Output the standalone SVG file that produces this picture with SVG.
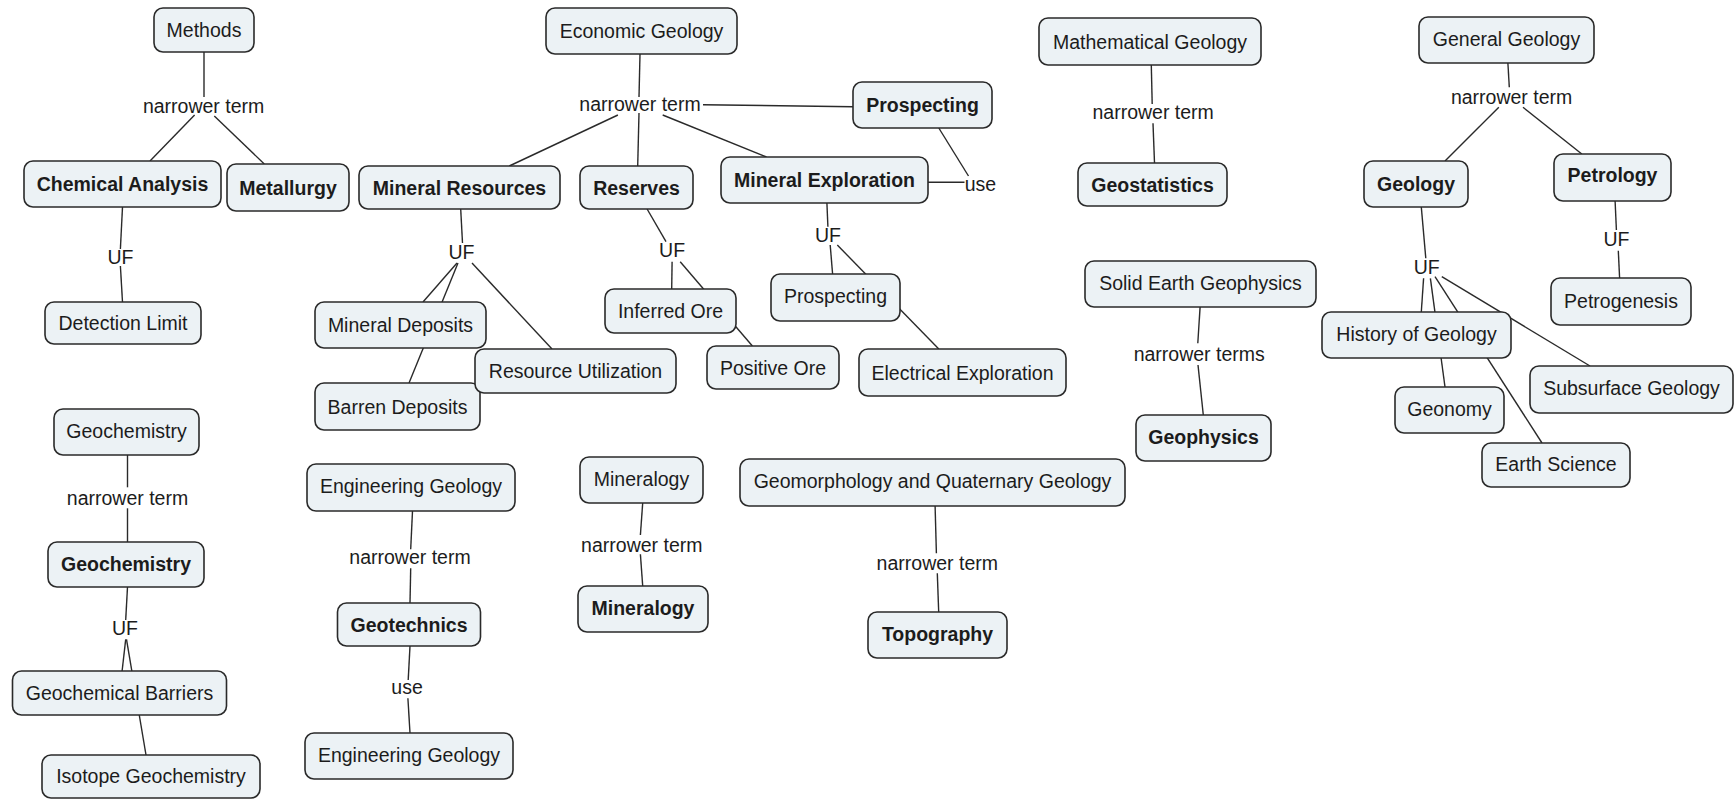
<svg xmlns="http://www.w3.org/2000/svg" width="1735" height="799" viewBox="0 0 1735 799">
  <style>
    .bg { fill: #ffffff; }
    .node rect { fill: #ecf2f5; stroke: #2a2a2a; stroke-width: 1.6; }
    .node text, .lbl { font-family: "Liberation Sans", Arial, Helvetica, sans-serif; font-size: 19.5px; fill: #1c1c1c; text-anchor: middle; }
    .node.b text { font-weight: bold; }
    #connectors line { stroke: #2a2a2a; stroke-width: 1.4; fill: none; }
  </style>
  <rect class="bg" x="0" y="0" width="1735" height="799"/>

  <!-- connector lines (drawn first so the concept boxes sit on top) -->
  <g id="connectors">
    <!-- Methods -->
    <line x1="204" y1="52" x2="204" y2="97"/>
    <line x1="194.6" y1="115" x2="150" y2="161"/>
    <line x1="214.3" y1="116" x2="264.3" y2="164"/>
    <line x1="122.5" y1="207" x2="120.4" y2="249"/>
    <line x1="120.4" y1="266" x2="122.5" y2="302"/>
    <!-- Economic Geology -->
    <line x1="640" y1="54" x2="639" y2="97"/>
    <line x1="703" y1="104.7" x2="853" y2="106.7"/>
    <line x1="617.9" y1="115" x2="509.3" y2="166"/>
    <line x1="639" y1="113" x2="637.7" y2="166"/>
    <line x1="662.7" y1="115" x2="766.5" y2="157"/>
    <line x1="460.7" y1="209" x2="462.5" y2="243"/>
    <line x1="457" y1="263" x2="423" y2="302"/>
    <line x1="458" y1="263" x2="409" y2="383"/>
    <line x1="472" y1="263" x2="552" y2="349"/>
    <line x1="647.1" y1="209" x2="666" y2="241.7"/>
    <line x1="672.1" y1="261.7" x2="671.7" y2="289"/>
    <line x1="680.2" y1="261.7" x2="752.4" y2="346"/>
    <line x1="826.9" y1="203" x2="827.9" y2="226.7"/>
    <line x1="830.2" y1="245" x2="832.6" y2="274"/>
    <line x1="837.3" y1="245" x2="938.8" y2="349"/>
    <line x1="938.8" y1="128" x2="968.5" y2="176"/>
    <line x1="928" y1="182.3" x2="964.5" y2="182.3"/>
    <!-- Mathematical Geology -->
    <line x1="1151.3" y1="65" x2="1152.2" y2="104"/>
    <line x1="1153" y1="123.3" x2="1154.5" y2="163"/>
    <!-- General Geology -->
    <line x1="1507.9" y1="63" x2="1509.3" y2="87.3"/>
    <line x1="1498.8" y1="107.3" x2="1445" y2="161"/>
    <line x1="1523" y1="107.3" x2="1581.8" y2="154"/>
    <line x1="1421.3" y1="207" x2="1425.8" y2="258.3"/>
    <line x1="1423.6" y1="278.3" x2="1421.3" y2="312"/>
    <line x1="1430.4" y1="278.3" x2="1445" y2="387"/>
    <line x1="1435" y1="276.7" x2="1542" y2="443"/>
    <line x1="1441.8" y1="276.7" x2="1590" y2="366"/>
    <line x1="1615.1" y1="201" x2="1616.4" y2="230"/>
    <line x1="1618.3" y1="250.7" x2="1619.6" y2="278"/>
    <!-- Solid Earth Geophysics -->
    <line x1="1200.1" y1="307" x2="1197.8" y2="343.3"/>
    <line x1="1198" y1="365" x2="1203.3" y2="415"/>
    <!-- Geochemistry -->
    <line x1="127.5" y1="455" x2="127.5" y2="487.3"/>
    <line x1="127.5" y1="508.3" x2="127.5" y2="542"/>
    <line x1="127.5" y1="587" x2="125.7" y2="620"/>
    <line x1="125.7" y1="639.3" x2="122.1" y2="671"/>
    <line x1="126.5" y1="639.3" x2="146" y2="755"/>
    <!-- Engineering Geology -->
    <line x1="412.5" y1="511" x2="410.7" y2="549.3"/>
    <line x1="410.7" y1="568.3" x2="410" y2="603"/>
    <line x1="410" y1="646" x2="408.2" y2="680"/>
    <line x1="407.9" y1="698.3" x2="410" y2="733"/>
    <!-- Mineralogy -->
    <line x1="642.7" y1="503" x2="640.4" y2="535"/>
    <line x1="640.4" y1="554.3" x2="642.7" y2="586"/>
    <!-- Geomorphology and Quaternary Geology -->
    <line x1="935.1" y1="506" x2="936.4" y2="553.3"/>
    <line x1="937.3" y1="573.3" x2="938.7" y2="612"/>
  </g>

  <!-- linking phrases -->
  <g id="link-labels">
    <text class="lbl" x="203.6" y="112.5">narrower term</text>
    <text class="lbl" x="120.4" y="263.7">UF</text>
    <text class="lbl" x="640" y="110.5">narrower term</text>
    <text class="lbl" x="461.4" y="258.7">UF</text>
    <text class="lbl" x="672.1" y="257">UF</text>
    <text class="lbl" x="827.9" y="242">UF</text>
    <text class="lbl" x="980.5" y="190.5">use</text>
    <text class="lbl" x="1153.2" y="119.2">narrower term</text>
    <text class="lbl" x="1511.6" y="103.8">narrower term</text>
    <text class="lbl" x="1616.4" y="246.3">UF</text>
    <text class="lbl" x="1426.7" y="273.7">UF</text>
    <text class="lbl" x="1199.2" y="360.5">narrower terms</text>
    <text class="lbl" x="127.5" y="504.8">narrower term</text>
    <text class="lbl" x="125" y="635.3">UF</text>
    <text class="lbl" x="410" y="563.8">narrower term</text>
    <text class="lbl" x="407.1" y="693.5">use</text>
    <text class="lbl" x="641.8" y="551.5">narrower term</text>
    <text class="lbl" x="937.3" y="569.8">narrower term</text>
  </g>

  <!-- concepts -->
  <g id="methods" class="node"><rect x="154" y="8" width="100" height="44" rx="9"/><text x="204" y="37">Methods</text></g>
  <g id="chemical-analysis" class="node b"><rect x="24" y="161" width="197" height="46" rx="9"/><text x="122.5" y="191">Chemical Analysis</text></g>
  <g id="metallurgy" class="node b"><rect x="227" y="164" width="122" height="47" rx="9"/><text x="288" y="194.5">Metallurgy</text></g>
  <g id="detection-limit" class="node"><rect x="45" y="302" width="156" height="42" rx="9"/><text x="123" y="330">Detection Limit</text></g>

  <g id="economic-geology" class="node"><rect x="546" y="8" width="191" height="46" rx="9"/><text x="641.5" y="38">Economic Geology</text></g>
  <g id="prospecting-term" class="node b"><rect x="853" y="82" width="139" height="46" rx="9"/><text x="922.5" y="112">Prospecting</text></g>
  <g id="mineral-resources" class="node b"><rect x="359" y="166" width="201" height="43" rx="9"/><text x="459.5" y="194.5">Mineral Resources</text></g>
  <g id="reserves" class="node b"><rect x="580" y="166" width="113" height="43" rx="9"/><text x="636.5" y="194.5">Reserves</text></g>
  <g id="mineral-exploration" class="node b"><rect x="721" y="157" width="207" height="46" rx="9"/><text x="824.5" y="187">Mineral Exploration</text></g>
  <g id="mineral-deposits" class="node"><rect x="315" y="302" width="171" height="46" rx="9"/><text x="400.5" y="332">Mineral Deposits</text></g>
  <g id="barren-deposits" class="node"><rect x="315" y="383" width="165" height="47" rx="9"/><text x="397.5" y="413.5">Barren Deposits</text></g>
  <g id="resource-utilization" class="node"><rect x="475" y="349" width="201" height="44" rx="9"/><text x="575.5" y="378">Resource Utilization</text></g>
  <g id="inferred-ore" class="node"><rect x="605" y="289" width="131" height="44" rx="9"/><text x="670.5" y="318">Inferred Ore</text></g>
  <g id="positive-ore" class="node"><rect x="707" y="346" width="132" height="43" rx="9"/><text x="773" y="374.5">Positive Ore</text></g>
  <g id="prospecting" class="node"><rect x="771" y="274" width="129" height="47" rx="9"/><text x="835.5" y="302.5">Prospecting</text></g>
  <g id="electrical-exploration" class="node"><rect x="859" y="349" width="207" height="47" rx="9"/><text x="962.5" y="379.5">Electrical Exploration</text></g>

  <g id="mathematical-geology" class="node"><rect x="1039" y="18" width="222" height="47" rx="9"/><text x="1150" y="48.5">Mathematical Geology</text></g>
  <g id="geostatistics" class="node b"><rect x="1078" y="163" width="149" height="43" rx="9"/><text x="1152.5" y="191.5">Geostatistics</text></g>

  <g id="general-geology" class="node"><rect x="1419" y="17" width="175" height="46" rx="9"/><text x="1506.5" y="45.5">General Geology</text></g>
  <g id="geology" class="node b"><rect x="1364" y="161" width="104" height="46" rx="9"/><text x="1416" y="191">Geology</text></g>
  <g id="petrology" class="node b"><rect x="1554" y="154" width="117" height="47" rx="9"/><text x="1612.5" y="182">Petrology</text></g>
  <g id="petrogenesis" class="node"><rect x="1551" y="278" width="140" height="47" rx="9"/><text x="1621" y="307.5">Petrogenesis</text></g>
  <g id="history-of-geology" class="node"><rect x="1322" y="312" width="189" height="46" rx="9"/><text x="1416.5" y="340.5">History of Geology</text></g>
  <g id="geonomy" class="node"><rect x="1395" y="387" width="109" height="46" rx="9"/><text x="1449.5" y="415.5">Geonomy</text></g>
  <g id="earth-science" class="node"><rect x="1482" y="443" width="148" height="44" rx="9"/><text x="1556" y="470.5">Earth Science</text></g>
  <g id="subsurface-geology" class="node"><rect x="1530" y="366" width="203" height="47" rx="9"/><text x="1631.5" y="394.5">Subsurface Geology</text></g>

  <g id="solid-earth-geophysics" class="node"><rect x="1085" y="261" width="231" height="46" rx="9"/><text x="1200.5" y="289.5">Solid Earth Geophysics</text></g>
  <g id="geophysics" class="node b"><rect x="1136" y="415" width="135" height="46" rx="9"/><text x="1203.5" y="443.5">Geophysics</text></g>

  <g id="geochemistry" class="node"><rect x="54" y="409" width="145" height="46" rx="9"/><text x="126.5" y="438">Geochemistry</text></g>
  <g id="geochemistry-term" class="node b"><rect x="48" y="542" width="156" height="45" rx="9"/><text x="126" y="570.5">Geochemistry</text></g>
  <g id="geochemical-barriers" class="node"><rect x="12.5" y="671" width="214" height="44" rx="9"/><text x="119.5" y="699.5">Geochemical Barriers</text></g>
  <g id="isotope-geochemistry" class="node"><rect x="42" y="755" width="218" height="43" rx="9"/><text x="151" y="783">Isotope Geochemistry</text></g>

  <g id="engineering-geology" class="node"><rect x="307" y="464" width="208" height="47" rx="9"/><text x="411" y="492.5">Engineering Geology</text></g>
  <g id="geotechnics" class="node b"><rect x="337.5" y="603" width="143" height="43" rx="9"/><text x="409" y="631.5">Geotechnics</text></g>
  <g id="engineering-geology-use" class="node"><rect x="305" y="733" width="208" height="46" rx="9"/><text x="409" y="762">Engineering Geology</text></g>

  <g id="mineralogy" class="node"><rect x="580" y="457" width="123" height="46" rx="9"/><text x="641.5" y="486">Mineralogy</text></g>
  <g id="mineralogy-term" class="node b"><rect x="578" y="586" width="130" height="46" rx="9"/><text x="643" y="614.5">Mineralogy</text></g>

  <g id="geomorphology-quaternary" class="node"><rect x="740" y="459" width="385" height="47" rx="9"/><text x="932.5" y="488">Geomorphology and Quaternary Geology</text></g>
  <g id="topography" class="node b"><rect x="868" y="612" width="139" height="46" rx="9"/><text x="937.5" y="640.5">Topography</text></g>
</svg>
